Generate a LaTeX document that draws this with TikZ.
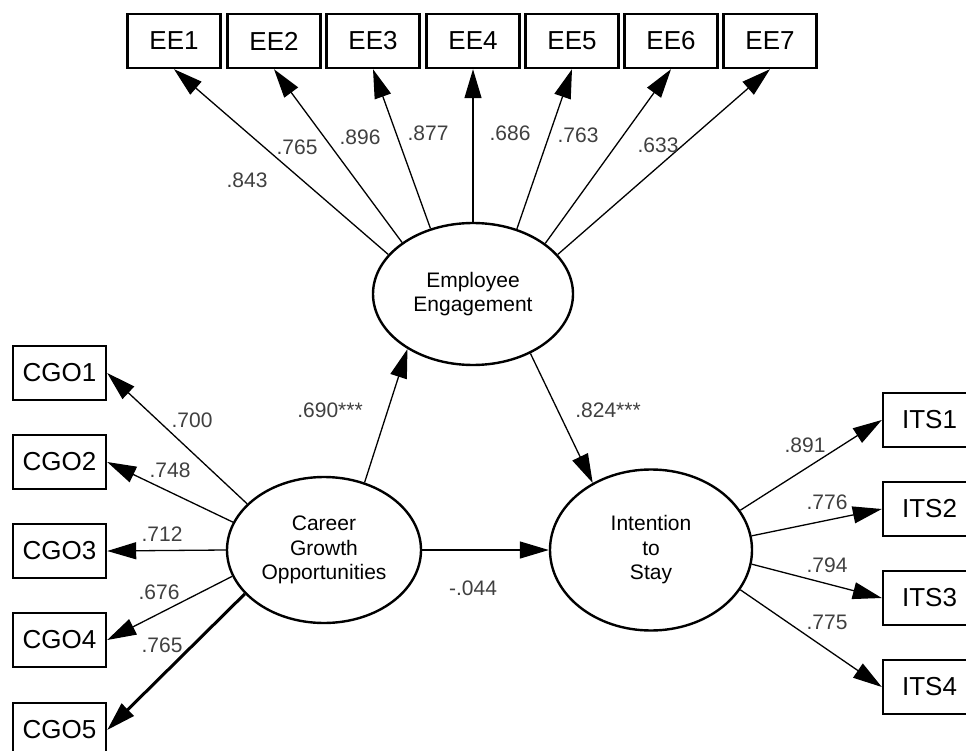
\documentclass[tikz,border=0pt]{standalone}
\usepackage{fontspec}
\setmainfont{Liberation Sans}
\usepackage{tikz}
\usetikzlibrary{arrows.meta,shapes.geometric}

\begin{document}
\begin{tikzpicture}[
      x=1pt,y=-1pt,
      mybox/.style={
         rectangle,
         draw=black,
         line width=2.4pt,
         fill=white,
         inner sep=0pt,
         minimum width=93pt,
         minimum height=54pt,
         font=\fontsize{26}{30}\selectfont},
      myellipse/.style={
         ellipse,
         draw=black,
         line width=2.4pt,
         inner sep=0pt,
         align=center,
         font=\fontsize{21}{24.5}\selectfont},
      mylabel/.style={
         rectangle,
         inner sep=0pt,
         text=black!75,
         font=\fontsize{21}{24}\selectfont},
      myarrow/.style={-{Triangle[length=29pt,width=17pt]},line width=1.3pt},
      myboldarrow/.style={myarrow,line width=3pt},
      ]
      \useasboundingbox (0,0) rectangle (966,751);
      \clip (0,0) rectangle (966,751);
      \fill[white] (0,0) rectangle (966,751);
      % latent variables
      \node[myellipse,minimum width=200pt,minimum height=142pt] (eng) at (473,294) {Employee\\Engagement};
      \node[myellipse,minimum width=194pt,minimum height=146pt] (cgo) at (324,550) {Career\\Growth\\Opportunities};
      \node[myellipse,minimum width=202pt,minimum height=161pt] (its) at (651,550) {Intention\\to\\Stay};
      % observed variables
      \node[mybox] (ee1) at (174,41) {EE1};
      \node[mybox] (ee2) at (274,41) {EE2};
      \node[mybox] (ee3) at (373,41) {EE3};
      \node[mybox] (ee4) at (473,41) {EE4};
      \node[mybox] (ee5) at (572,41) {EE5};
      \node[mybox] (ee6) at (671,41) {EE6};
      \node[mybox] (ee7) at (770,41) {EE7};
      \node[mybox] (cgo1) at (59.5,373) {CGO1};
      \node[mybox] (cgo2) at (59.5,462) {CGO2};
      \node[mybox] (cgo3) at (59.5,551) {CGO3};
      \node[mybox] (cgo4) at (59.5,640) {CGO4};
      \node[mybox] (cgo5) at (59.5,730) {CGO5};
      \node[mybox] (its1) at (929.5,420) {ITS1};
      \node[mybox] (its2) at (929.5,509) {ITS2};
      \node[mybox] (its3) at (929.5,598) {ITS3};
      \node[mybox] (its4) at (929.5,687) {ITS4};
    % loadings
    \foreach \a/\b/\txt/\lx/\ly in {
      155/ee1/.843/247/180,
      144/ee2/.765/297/147,
      123/ee3/.896/360/137,
      90/ee4/.877/428/133,
      56/ee5/.686/510/133,
      35/ee6/.763/578/135,
      25/ee7/.633/658/145}
      {
       \draw [myarrow] (eng.\a) -- (\b.south);
       \node[mylabel] (l\b) at (\lx,\ly) {\txt};
      }
    \foreach \a/\b/\txt/\lx/\ly/\st in {
      149/cgo1/.700/192/420/myarrow,
      163/cgo2/.748/170/470/myarrow,
      180/cgo3/.712/162/534/myarrow,
      196/cgo4/.676/159/592/myarrow,
      209/cgo5/.765/162/645/myboldarrow}
      {
       \draw [\st] (cgo.\a) -- (\b.east);
       \node[mylabel] (l\b) at (\lx,\ly) {\txt};
      }
    \foreach \a/\b/\txt/\lx/\ly in {
      24/its1/.891/805/445,
      8/its2/.776/827/502,
      -8/its3/.794/827/565,
      -24/its4/.775/827/622}
      {
       \draw [myarrow] (its.\a) -- (\b.west);
       \node[mylabel] (l\b) at (\lx,\ly) {\txt};
      }
    % structural paths
    \draw [myarrow] (cgo.59.6) -- (eng.220.6);
    \draw [myarrow] (eng.314) -- (its.131.4);
    \draw [myarrow] (cgo.east) -- (its.west);
    \node[mylabel] (lce) at (330,410) {.690***};
    \node[mylabel] (lei) at (608,410) {.824***};
    \node[mylabel] (lci) at (473,588) {-.044};
\end{tikzpicture}
\end{document}
